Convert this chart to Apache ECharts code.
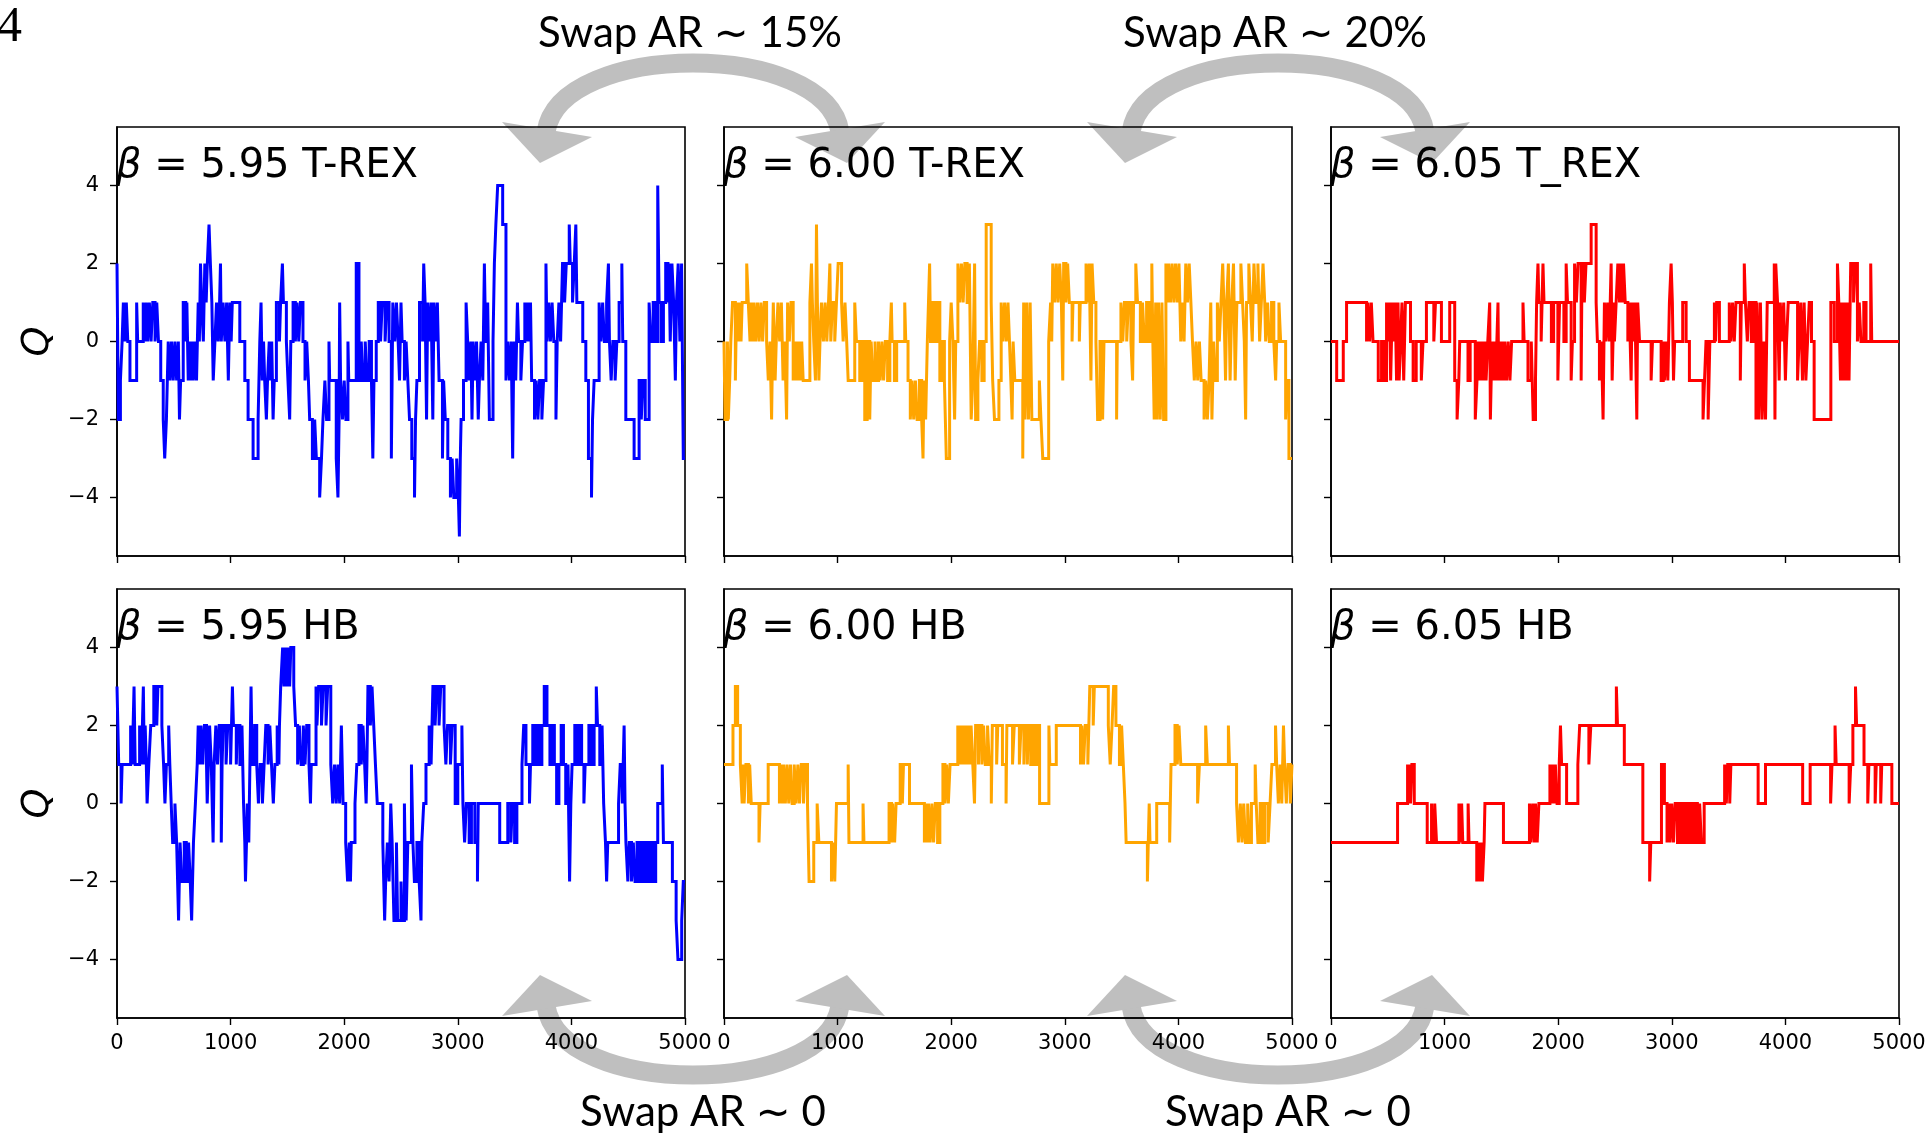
<!DOCTYPE html>
<html>
<head>
<meta charset="utf-8">
<script src="https://cdn.jsdelivr.net/npm/echarts@6/dist/echarts.min.js"></script>
<style>
html,body{margin:0;padding:0;background:#fff;}
#c{width:1931px;height:1136px;}
</style>
</head>
<body>
<div id="c"></div>
<script>
// ---- data: change points [step, Q] (Q holds from step until next change) ----
var QTrex595 = [[0,2],[12,-2],[30,-1],[45,0],[56,1],[70,0],[82,1],[95,0],[114,-1],[173,1],[182,0],[231,1],[245,0],[258,1],[270,0],[285,1],[300,0],[315,1],[335,0],[350,1],[365,0],[385,-1],[407,-2],[420,-3],[435,-2],[451,0],[466,-1],[480,0],[495,-1],[510,0],[525,-1],[540,0],[550,-2],[560,-1],[583,1],[605,0],[615,1],[627,-1],[640,0],[650,-1],[660,0],[672,-1],[685,0],[700,-1],[715,1],[725,0],[735,2],[745,1],[760,0],[773,2],[785,1],[795,2],[810,3],[822,2],[835,1],[847,-1],[862,0],[876,1],[890,0],[903,1],[911,2],[918,0],[934,1],[950,0],[965,1],[980,-1],[993,1],[1005,0],[1015,1],[1081,0],[1125,-1],[1154,-2],[1198,-3],[1242,-2],[1257,0],[1268,1],[1278,-1],[1290,0],[1300,-1],[1315,-2],[1325,-1],[1340,0],[1352,-1],[1362,0],[1374,-2],[1384,-1],[1403,1],[1430,0],[1440,1],[1456,2],[1465,1],[1491,0],[1505,-1],[1520,-2],[1530,0],[1550,1],[1570,0],[1585,1],[1600,0],[1615,1],[1637,0],[1655,-1],[1670,0],[1685,-1],[1696,-2],[1720,-3],[1740,-2],[1755,-3],[1784,-4],[1800,-3],[1813,-2],[1830,-1],[1845,-2],[1866,0],[1872,-1],[1930,-3],[1945,-4],[1955,-2],[1960,1],[1968,-1],[1985,-2],[2000,-1],[2015,-2],[2033,0],[2040,-1],[2106,2],[2130,-1],[2150,0],[2165,-1],[2185,0],[2200,-1],[2220,0],[2240,-1],[2252,-3],[2262,-1],[2282,0],[2300,1],[2320,0],[2335,1],[2360,0],[2375,1],[2395,0],[2415,-3],[2428,1],[2445,0],[2460,1],[2475,0],[2487,-1],[2500,1],[2510,0],[2530,-1],[2545,0],[2560,-1],[2575,-2],[2595,-3],[2619,-4],[2628,-2],[2640,-1],[2663,1],[2690,0],[2700,2],[2712,1],[2725,-2],[2735,1],[2750,0],[2765,1],[2780,-2],[2790,1],[2805,0],[2820,1],[2835,-1],[2865,-3],[2875,-1],[2890,-2],[2912,-3],[2935,-4],[2950,-3],[2965,-4],[2990,-3],[3005,-4],[3014,-5],[3022,-3],[3029,-2],[3050,-1],[3073,1],[3087,0],[3100,-1],[3115,0],[3125,-2],[3135,0],[3150,-1],[3165,0],[3180,-2],[3190,-1],[3205,0],[3220,-1],[3234,2],[3245,0],[3263,1],[3278,-2],[3310,0],[3322,2],[3335,3],[3351,4],[3395,3],[3424,-1],[3440,0],[3455,-1],[3470,0],[3483,-3],[3490,-1],[3497,0],[3510,-1],[3525,1],[3535,0],[3555,-1],[3570,0],[3590,1],[3600,0],[3615,1],[3625,0],[3640,1],[3650,-1],[3675,-2],[3690,-1],[3705,-2],[3720,-1],[3740,-2],[3755,-1],[3776,2],[3785,0],[3800,1],[3815,0],[3830,1],[3845,0],[3864,-2],[3875,0],[3890,1],[3905,0],[3922,2],[3940,1],[3955,2],[3981,3],[3990,2],[4010,1],[4025,2],[4039,3],[4048,1],[4100,0],[4127,-1],[4150,-3],[4177,-4],[4186,-2],[4200,-1],[4244,1],[4260,0],[4275,1],[4290,0],[4310,1],[4326,2],[4335,0],[4350,-1],[4365,0],[4385,-1],[4400,0],[4420,1],[4444,2],[4452,0],[4479,-2],[4552,-3],[4596,-1],[4615,-2],[4630,-1],[4650,-2],[4684,1],[4700,0],[4720,1],[4740,0],[4760,4],[4772,1],[4790,0],[4810,1],[4830,2],[4850,1],[4860,2],[4870,0],[4885,2],[4900,1],[4915,-1],[4925,1],[4940,2],[4955,0],[4970,2],[4985,-3],[5000,-3]];

var QTrex600 = [[0,0],[9,-2],[30,0],[38,-2],[50,-1],[60,0],[75,1],[100,-1],[111,1],[126,0],[135,1],[150,0],[160,1],[200,2],[214,1],[229,0],[240,1],[255,0],[265,1],[280,0],[295,1],[310,0],[325,1],[340,0],[355,1],[375,0],[390,-1],[405,0],[419,-2],[428,0],[434,1],[450,-1],[460,0],[475,1],[490,0],[505,1],[520,-1],[535,0],[551,-2],[560,1],[575,0],[590,1],[609,-1],[620,0],[630,-1],[640,0],[650,-1],[660,0],[672,-1],[684,0],[697,-1],[756,1],[770,2],[778,1],[790,0],[805,-1],[814,3],[822,1],[835,-1],[845,0],[858,1],[875,0],[890,1],[905,0],[920,1],[932,2],[940,0],[955,1],[975,0],[990,1],[1005,2],[1035,1],[1049,0],[1065,1],[1080,0],[1093,-1],[1151,1],[1166,0],[1195,-1],[1215,0],[1239,-2],[1260,0],[1283,-2],[1295,0],[1312,-1],[1330,0],[1342,-1],[1360,0],[1375,-1],[1390,0],[1405,-1],[1420,0],[1440,-1],[1460,0],[1473,1],[1480,0],[1500,-1],[1520,0],[1591,1],[1600,0],[1620,-1],[1640,-2],[1655,-1],[1670,-2],[1685,-1],[1700,-2],[1720,-1],[1740,-2],[1752,-3],[1760,-1],[1775,-2],[1790,0],[1800,1],[1810,2],[1818,0],[1840,1],[1860,0],[1880,1],[1900,-1],[1920,0],[1940,-1],[1957,-3],[1986,0],[2000,1],[2015,0],[2030,-2],[2040,0],[2059,2],[2075,1],[2090,2],[2105,1],[2120,2],[2140,1],[2160,2],[2176,-2],[2190,-1],[2206,2],[2215,-2],[2235,-1],[2250,0],[2270,-1],[2290,0],[2308,3],[2352,1],[2365,-1],[2381,-2],[2420,-1],[2440,1],[2455,0],[2470,1],[2485,0],[2500,1],[2513,0],[2525,-1],[2536,-2],[2545,0],[2560,-1],[2630,-3],[2638,1],[2650,-2],[2665,1],[2680,-2],[2695,1],[2710,-2],[2776,-1],[2790,-2],[2806,-3],[2858,0],[2875,1],[2885,0],[2894,2],[2910,1],[2925,2],[2940,1],[2955,2],[2970,1],[2982,-1],[2990,2],[3010,1],[3025,2],[3040,1],[3064,0],[3072,1],[3128,0],[3136,1],[3187,2],[3200,1],[3215,2],[3230,-1],[3240,2],[3255,1],[3274,0],[3289,-2],[3310,0],[3333,-2],[3345,0],[3456,-2],[3462,0],[3494,1],[3510,0],[3525,1],[3545,0],[3560,1],[3582,0],[3597,-1],[3605,1],[3625,2],[3640,1],[3665,0],[3684,1],[3700,0],[3720,1],[3740,0],[3766,2],[3775,0],[3787,-2],[3800,1],[3812,-2],[3825,1],[3840,-2],[3855,1],[3870,-2],[3890,2],[3904,1],[3915,2],[3930,1],[3945,2],[3960,1],[3975,2],[3990,1],[4005,2],[4021,0],[4035,1],[4050,0],[4065,2],[4080,1],[4095,2],[4110,1],[4124,0],[4140,-1],[4155,0],[4170,-1],[4185,0],[4200,-1],[4226,-2],[4240,-1],[4255,-2],[4270,-1],[4285,1],[4295,-2],[4310,0],[4325,-1],[4343,1],[4360,0],[4375,1],[4390,2],[4400,1],[4415,-1],[4425,1],[4440,2],[4455,-1],[4470,1],[4485,2],[4500,-1],[4515,1],[4550,2],[4565,1],[4580,0],[4592,-2],[4600,1],[4620,2],[4635,1],[4650,0],[4665,2],[4680,1],[4700,2],[4715,0],[4730,1],[4745,2],[4760,1],[4768,0],[4785,1],[4800,0],[4820,1],[4840,0],[4856,-1],[4865,0],[4885,1],[4900,0],[4944,-2],[4955,-1],[4973,-3],[5000,-3]];

var QTrex605 = [[0,0],[50,-1],[108,0],[137,1],[313,0],[325,1],[340,0],[355,1],[370,0],[416,-1],[445,0],[470,-1],[489,1],[505,0],[515,1],[525,-1],[540,1],[555,0],[565,1],[577,-1],[590,1],[600,-1],[612,0],[625,1],[640,-1],[655,1],[700,0],[723,-1],[750,0],[795,-1],[810,0],[840,1],[905,0],[920,1],[972,0],[1045,1],[1089,-1],[1110,-2],[1125,-1],[1133,0],[1206,-1],[1225,0],[1270,-2],[1285,-1],[1294,0],[1305,-1],[1315,0],[1325,-1],[1335,0],[1345,-1],[1355,0],[1365,-1],[1380,0],[1397,1],[1403,-2],[1410,-1],[1420,0],[1430,-1],[1440,0],[1450,-1],[1460,0],[1470,1],[1476,-1],[1490,0],[1500,-1],[1510,0],[1520,-1],[1530,0],[1545,-1],[1560,0],[1575,-1],[1590,0],[1690,1],[1700,0],[1734,-1],[1763,0],[1780,-2],[1800,-1],[1810,1],[1822,2],[1830,1],[1850,0],[1866,2],[1875,1],[1940,0],[1960,1],[1997,-1],[2012,1],[2050,0],[2070,2],[2082,1],[2114,-1],[2125,0],[2144,2],[2160,1],[2175,2],[2202,-1],[2210,2],[2230,1],[2245,2],[2290,3],[2334,1],[2345,0],[2363,-1],[2380,0],[2395,-2],[2407,1],[2420,0],[2435,1],[2450,0],[2466,2],[2475,-1],[2490,1],[2495,0],[2510,1],[2525,2],[2540,1],[2550,2],[2565,1],[2575,2],[2590,1],[2613,0],[2625,1],[2642,-1],[2650,1],[2665,0],[2675,1],[2692,-2],[2700,1],[2716,0],[2818,-1],[2830,0],[2906,-1],[2925,0],[2935,-1],[2950,0],[2965,-1],[2979,1],[2994,2],[3005,1],[3015,-1],[3025,0],[3096,1],[3126,0],[3155,-1],[3275,-2],[3288,-1],[3301,0],[3320,-2],[3335,0],[3375,1],[3385,0],[3395,1],[3419,0],[3506,1],[3520,0],[3535,1],[3550,0],[3565,1],[3603,-1],[3612,1],[3638,2],[3648,1],[3665,0],[3680,1],[3700,0],[3720,1],[3741,-2],[3750,1],[3765,-2],[3780,1],[3795,-2],[3810,0],[3825,-2],[3840,1],[3902,2],[3908,-2],[3915,2],[3931,1],[3945,-1],[3955,1],[3970,0],[3985,1],[4000,-1],[4010,0],[4025,1],[4107,-1],[4120,0],[4135,1],[4150,-1],[4165,1],[4180,-1],[4195,0],[4210,1],[4230,0],[4253,-2],[4400,1],[4430,0],[4458,2],[4470,1],[4485,-1],[4495,1],[4510,-1],[4520,1],[4535,-1],[4545,1],[4560,-1],[4575,2],[4600,1],[4615,2],[4634,0],[4650,1],[4665,0],[4690,1],[4710,0],[4751,2],[4760,0],[5000,0]];

var QHb595 = [[0,3],[15,1],[36,0],[45,1],[120,2],[134,1],[150,3],[160,1],[199,2],[215,1],[232,3],[240,1],[248,2],[258,1],[265,0],[280,1],[297,2],[324,3],[350,2],[360,3],[395,2],[410,1],[422,0],[435,1],[455,2],[465,1],[477,0],[490,-1],[510,0],[525,-1],[542,-3],[555,-1],[570,-2],[592,-1],[610,-2],[630,-1],[645,-2],[657,-3],[673,-1],[690,0],[706,1],[715,2],[730,1],[740,2],[755,1],[770,2],[788,1],[794,0],[804,1],[815,2],[830,1],[846,-1],[855,1],[870,2],[885,1],[900,2],[918,-1],[925,1],[935,2],[960,1],[975,2],[1000,1],[1016,3],[1025,2],[1050,1],[1060,2],[1082,1],[1100,2],[1114,0],[1125,-1],[1131,-2],[1140,-1],[1147,0],[1160,-1],[1170,1],[1180,3],[1190,1],[1212,2],[1230,1],[1245,0],[1260,1],[1280,0],[1295,1],[1310,2],[1330,1],[1345,2],[1360,1],[1376,0],[1390,1],[1410,2],[1425,1],[1430,2],[1441,3],[1458,4],[1470,3],[1480,4],[1495,3],[1505,4],[1520,3],[1530,4],[1556,3],[1572,2],[1590,1],[1605,2],[1621,1],[1640,2],[1655,1],[1670,2],[1690,1],[1703,0],[1710,1],[1752,3],[1760,2],[1775,3],[1800,2],[1815,3],[1840,2],[1855,3],[1882,1],[1899,0],[1915,1],[1930,0],[1945,1],[1960,0],[1975,2],[1990,0],[2013,-1],[2030,-2],[2045,-1],[2055,-2],[2062,-1],[2095,0],[2111,1],[2130,2],[2150,1],[2165,2],[2180,1],[2193,0],[2200,1],[2209,3],[2230,2],[2245,3],[2260,2],[2275,1],[2291,0],[2340,-1],[2348,-2],[2356,-3],[2365,-2],[2380,-1],[2395,-2],[2410,0],[2422,-1],[2438,-3],[2460,-1],[2470,-3],[2500,-2],[2510,-3],[2530,0],[2545,-3],[2560,-1],[2592,1],[2605,-1],[2618,-2],[2640,-1],[2660,-2],[2676,-3],[2683,-1],[2700,0],[2720,1],[2748,2],[2765,1],[2781,3],[2800,2],[2815,3],[2835,2],[2850,3],[2879,2],[2895,1],[2910,2],[2935,1],[2950,2],[2977,0],[3000,1],[3036,2],[3045,0],[3060,-1],[3075,0],[3100,-1],[3120,0],[3150,-1],[3173,-2],[3180,0],[3369,-1],[3440,0],[3467,-1],[3480,0],[3500,-1],[3520,0],[3565,1],[3580,2],[3600,1],[3631,0],[3640,1],[3660,2],[3680,1],[3700,2],[3720,1],[3740,2],[3761,3],[3785,2],[3811,1],[3830,2],[3850,1],[3870,0],[3890,1],[3910,2],[3930,1],[3950,0],[3970,1],[3984,-2],[3995,0],[4006,1],[4030,2],[4050,1],[4070,2],[4090,1],[4110,0],[4121,1],[4154,2],[4175,1],[4200,2],[4219,3],[4230,2],[4250,1],[4270,2],[4284,0],[4300,-1],[4310,-2],[4320,-1],[4415,0],[4430,1],[4448,0],[4464,2],[4472,0],[4480,-1],[4497,-2],[4510,-1],[4529,-2],[4545,-1],[4560,-2],[4578,-1],[4600,-2],[4620,-1],[4640,-2],[4660,-1],[4680,-2],[4700,-1],[4720,-2],[4742,-1],[4760,0],[4800,1],[4810,-1],[4889,-2],[4922,-3],[4938,-4],[4971,-3],[4985,-2],[5000,-2]];

var QHb600 = [[0,1],[79,2],[100,3],[120,2],[144,1],[160,0],[170,1],[177,0],[193,1],[215,0],[226,1],[240,0],[308,-1],[318,0],[389,1],[488,0],[500,1],[515,0],[525,1],[540,0],[555,1],[570,0],[585,1],[600,0],[618,1],[635,0],[650,1],[665,0],[680,1],[700,0],[715,1],[735,0],[749,-2],[790,-1],[820,0],[835,-1],[946,-2],[962,-1],[975,-2],[990,0],[1093,1],[1100,-1],[1224,0],[1232,-1],[1453,0],[1475,-1],[1485,0],[1502,-1],[1515,0],[1551,1],[1570,0],[1580,1],[1633,0],[1764,-1],[1775,0],[1790,-1],[1800,0],[1815,-1],[1830,0],[1845,-1],[1860,0],[1880,-1],[1900,0],[1927,1],[1945,0],[1960,1],[1975,0],[1990,1],[2058,2],[2070,1],[2080,2],[2090,1],[2100,2],[2115,1],[2125,2],[2140,1],[2150,2],[2165,1],[2175,2],[2190,1],[2205,0],[2215,2],[2240,1],[2250,2],[2270,1],[2285,2],[2300,1],[2320,2],[2335,1],[2353,0],[2362,2],[2400,1],[2410,2],[2451,1],[2483,0],[2490,2],[2540,1],[2555,2],[2600,1],[2615,2],[2640,1],[2650,2],[2670,1],[2680,2],[2700,1],[2720,2],[2740,1],[2760,2],[2778,0],[2860,2],[2868,1],[2925,2],[3138,1],[3150,2],[3165,1],[3180,2],[3203,1],[3220,3],[3250,2],[3260,3],[3383,2],[3400,1],[3416,2],[3430,3],[3450,2],[3481,1],[3500,2],[3515,1],[3530,0],[3540,-1],[3727,-2],[3735,-1],[3743,0],[3750,-1],[3809,0],[3923,-1],[3935,1],[3970,2],[3990,1],[4005,2],[4021,1],[4169,0],[4185,1],[4240,2],[4255,1],[4440,2],[4450,1],[4512,0],[4528,-1],[4545,0],[4560,-1],[4575,0],[4590,-1],[4610,0],[4625,-1],[4643,0],[4676,1],[4685,0],[4700,-1],[4720,0],[4740,-1],[4760,0],[4790,-1],[4807,0],[4823,1],[4855,2],[4865,1],[4880,0],[4895,1],[4910,0],[4925,2],[4935,1],[4950,0],[4965,1],[4985,0],[5000,1]];

var QHb605 = [[0,-1],[586,0],[674,1],[680,0],[690,1],[700,0],[712,1],[733,0],[847,-1],[885,0],[895,-1],[913,0],[929,-1],[1126,0],[1135,-1],[1150,0],[1160,-1],[1207,0],[1215,-1],[1283,-2],[1300,-1],[1310,-2],[1325,-1],[1333,-2],[1348,-1],[1355,0],[1518,-1],[1747,0],[1760,-1],[1775,0],[1790,-1],[1800,0],[1815,-1],[1830,0],[1927,1],[1940,0],[1950,1],[1965,0],[1975,1],[1990,0],[2009,1],[2020,2],[2030,1],[2074,0],[2173,1],[2189,2],[2270,1],[2287,2],[2512,3],[2522,2],[2582,1],[2745,-1],[2805,-2],[2815,-1],[2909,1],[2935,0],[2958,-1],[2975,0],[2985,-1],[3000,0],[3015,-1],[3030,0],[3050,-1],[3070,0],[3090,-1],[3115,0],[3140,-1],[3160,0],[3180,-1],[3200,0],[3225,-1],[3245,0],[3260,-1],[3285,0],[3465,1],[3480,0],[3492,1],[3510,0],[3520,1],[3760,0],[3825,1],[4152,0],[4218,1],[4398,0],[4410,1],[4437,2],[4447,1],[4561,0],[4575,1],[4594,2],[4617,3],[4627,2],[4692,1],[4725,0],[4735,1],[4790,0],[4800,1],[4839,0],[4848,1],[4937,0],[5000,0]];

var panelSeries = [QTrex595, QTrex600, QTrex605, QHb595, QHb600, QHb605];
var panelBeta = ['5.95', '6.00', '6.05', '5.95', '6.00', '6.05'];
var panelMethod = ['T-REX', 'T-REX', 'T_REX', 'HB', 'HB', 'HB'];
var panelColors = ['#0000ff', '#ffa500', '#ff0000', '#0000ff', '#ffa500', '#ff0000'];
var yTicks = [-4, -2, 0, 2, 4];
var xRange = [0, 5000];
var xStep = 1000;
var swapLabels = ['Swap AR \u223c 15%', 'Swap AR \u223c 20%', 'Swap AR \u223c 0', 'Swap AR \u223c 0'];
var figLabel = '4';

// ---- layout ----
var colLeft = [117, 724, 1331];
var colWidth = 568;
var rowTop = [127, 589];
var rowHeight = 429;

var grids = [], xAxes = [], yAxes = [], series = [], titles = [];
var fmtNum = function (v) { return v < 0 ? '\u2212' + Math.abs(v) : String(v); };

for (var i = 0; i < 6; i++) {
  var r = Math.floor(i / 3), c = i % 3;
  grids.push({left: colLeft[c], top: rowTop[r], width: colWidth, height: rowHeight,
    show: true, borderColor: '#000', borderWidth: 1.6, backgroundColor: 'transparent', containLabel: false});
  xAxes.push({type: 'value', gridIndex: i, min: xRange[0], max: xRange[1], interval: xStep,
    axisLine: {show: true, onZero: false, lineStyle: {color: '#000', width: 1.6}},
    axisTick: {show: true, inside: false, length: 7, lineStyle: {color: '#000', width: 1.4}},
    axisLabel: {show: r === 1, margin: 15, color: '#000', fontSize: 21, fontFamily: 'DejaVu Sans',
      showMinLabel: true, showMaxLabel: true, formatter: function (v) { return String(v); }},
    splitLine: {show: false}});
  yAxes.push({type: 'value', gridIndex: i, min: -5.5, max: 5.5,
    name: c === 0 ? 'Q' : '', nameLocation: 'middle', nameGap: 60, nameRotate: 90,
    nameTextStyle: {fontSize: 38, fontStyle: 'italic', fontFamily: 'DejaVu Sans', color: '#000'},
    axisLine: {show: true, onZero: false, lineStyle: {color: '#000', width: 1.6}},
    axisTick: {show: true, inside: false, length: 7, customValues: yTicks, lineStyle: {color: '#000', width: 1.4}},
    axisLabel: {show: c === 0, customValues: yTicks, margin: 18, color: '#000', fontSize: 21,
      fontFamily: 'DejaVu Sans', formatter: fmtNum},
    splitLine: {show: false}});
  series.push({type: 'line', xAxisIndex: i, yAxisIndex: i, data: panelSeries[i], step: 'end',
    showSymbol: false, symbol: 'none', clip: true, z: 5,
    lineStyle: {color: panelColors[i], width: 3, join: 'miter'}, itemStyle: {color: panelColors[i]}});
  titles.push({text: '{i|\u03b2} = ' + panelBeta[i] + ' ' + panelMethod[i],
    left: colLeft[c] - 1, top: rowTop[r] + 20, padding: 0,
    textStyle: {fontSize: 40, fontWeight: 'normal', fontFamily: 'DejaVu Sans', color: '#000', lineHeight: 40,
      rich: {i: {fontSize: 40, fontStyle: 'italic', fontFamily: 'DejaVu Sans', color: '#000', lineHeight: 40}}}});
}

// ---- decorative swap arrows ----
var grey = '#bfbfbf';
var gfx = [];
function arrowPair(dx, mirror) {
  var Y = function (y) { return mirror ? 1138 - y : y; };
  gfx.push({type: 'bezierCurve', z: -10, silent: true,
    shape: {x1: 546 + dx, y1: Y(132), cpx1: 560 + dx, cpy1: Y(40), cpx2: 826 + dx, cpy2: Y(40), x2: 840 + dx, y2: Y(132)},
    style: {stroke: grey, lineWidth: 19, fill: null}});
  gfx.push({type: 'polygon', z: -10, silent: true,
    shape: {points: [[502 + dx, Y(122)], [592 + dx, Y(137)], [540 + dx, Y(163)]]}, style: {fill: grey}});
  gfx.push({type: 'polygon', z: -10, silent: true,
    shape: {points: [[795 + dx, Y(137)], [885 + dx, Y(122)], [847 + dx, Y(163)]]}, style: {fill: grey}});
}
arrowPair(0, false); arrowPair(585, false); arrowPair(0, true); arrowPair(585, true);

var swapPos = [[690, 33], [1275, 33], [703, 1112], [1288, 1112]];
for (var k = 0; k < 4; k++) {
  gfx.push({type: 'text', z: 20, silent: true,
    style: {text: swapLabels[k], x: swapPos[k][0], y: swapPos[k][1], textAlign: 'center', textVerticalAlign: 'middle',
      fontSize: 42, fontFamily: 'Lato, "DejaVu Sans", sans-serif', fill: '#000'}});
}
gfx.push({type: 'text', z: 20, silent: true,
  style: {text: figLabel, x: -3, y: 28, textAlign: 'left', textVerticalAlign: 'middle',
    fontSize: 50, fontFamily: '"Liberation Serif", "DejaVu Serif", serif', fill: '#000'}});

var chart = echarts.init(document.getElementById('c'), null, {renderer: 'canvas'});
chart.setOption({
  animation: false,
  backgroundColor: '#fff',
  title: titles,
  grid: grids,
  xAxis: xAxes,
  yAxis: yAxes,
  series: series,
  graphic: {elements: gfx}
});
</script>
</body>
</html>
